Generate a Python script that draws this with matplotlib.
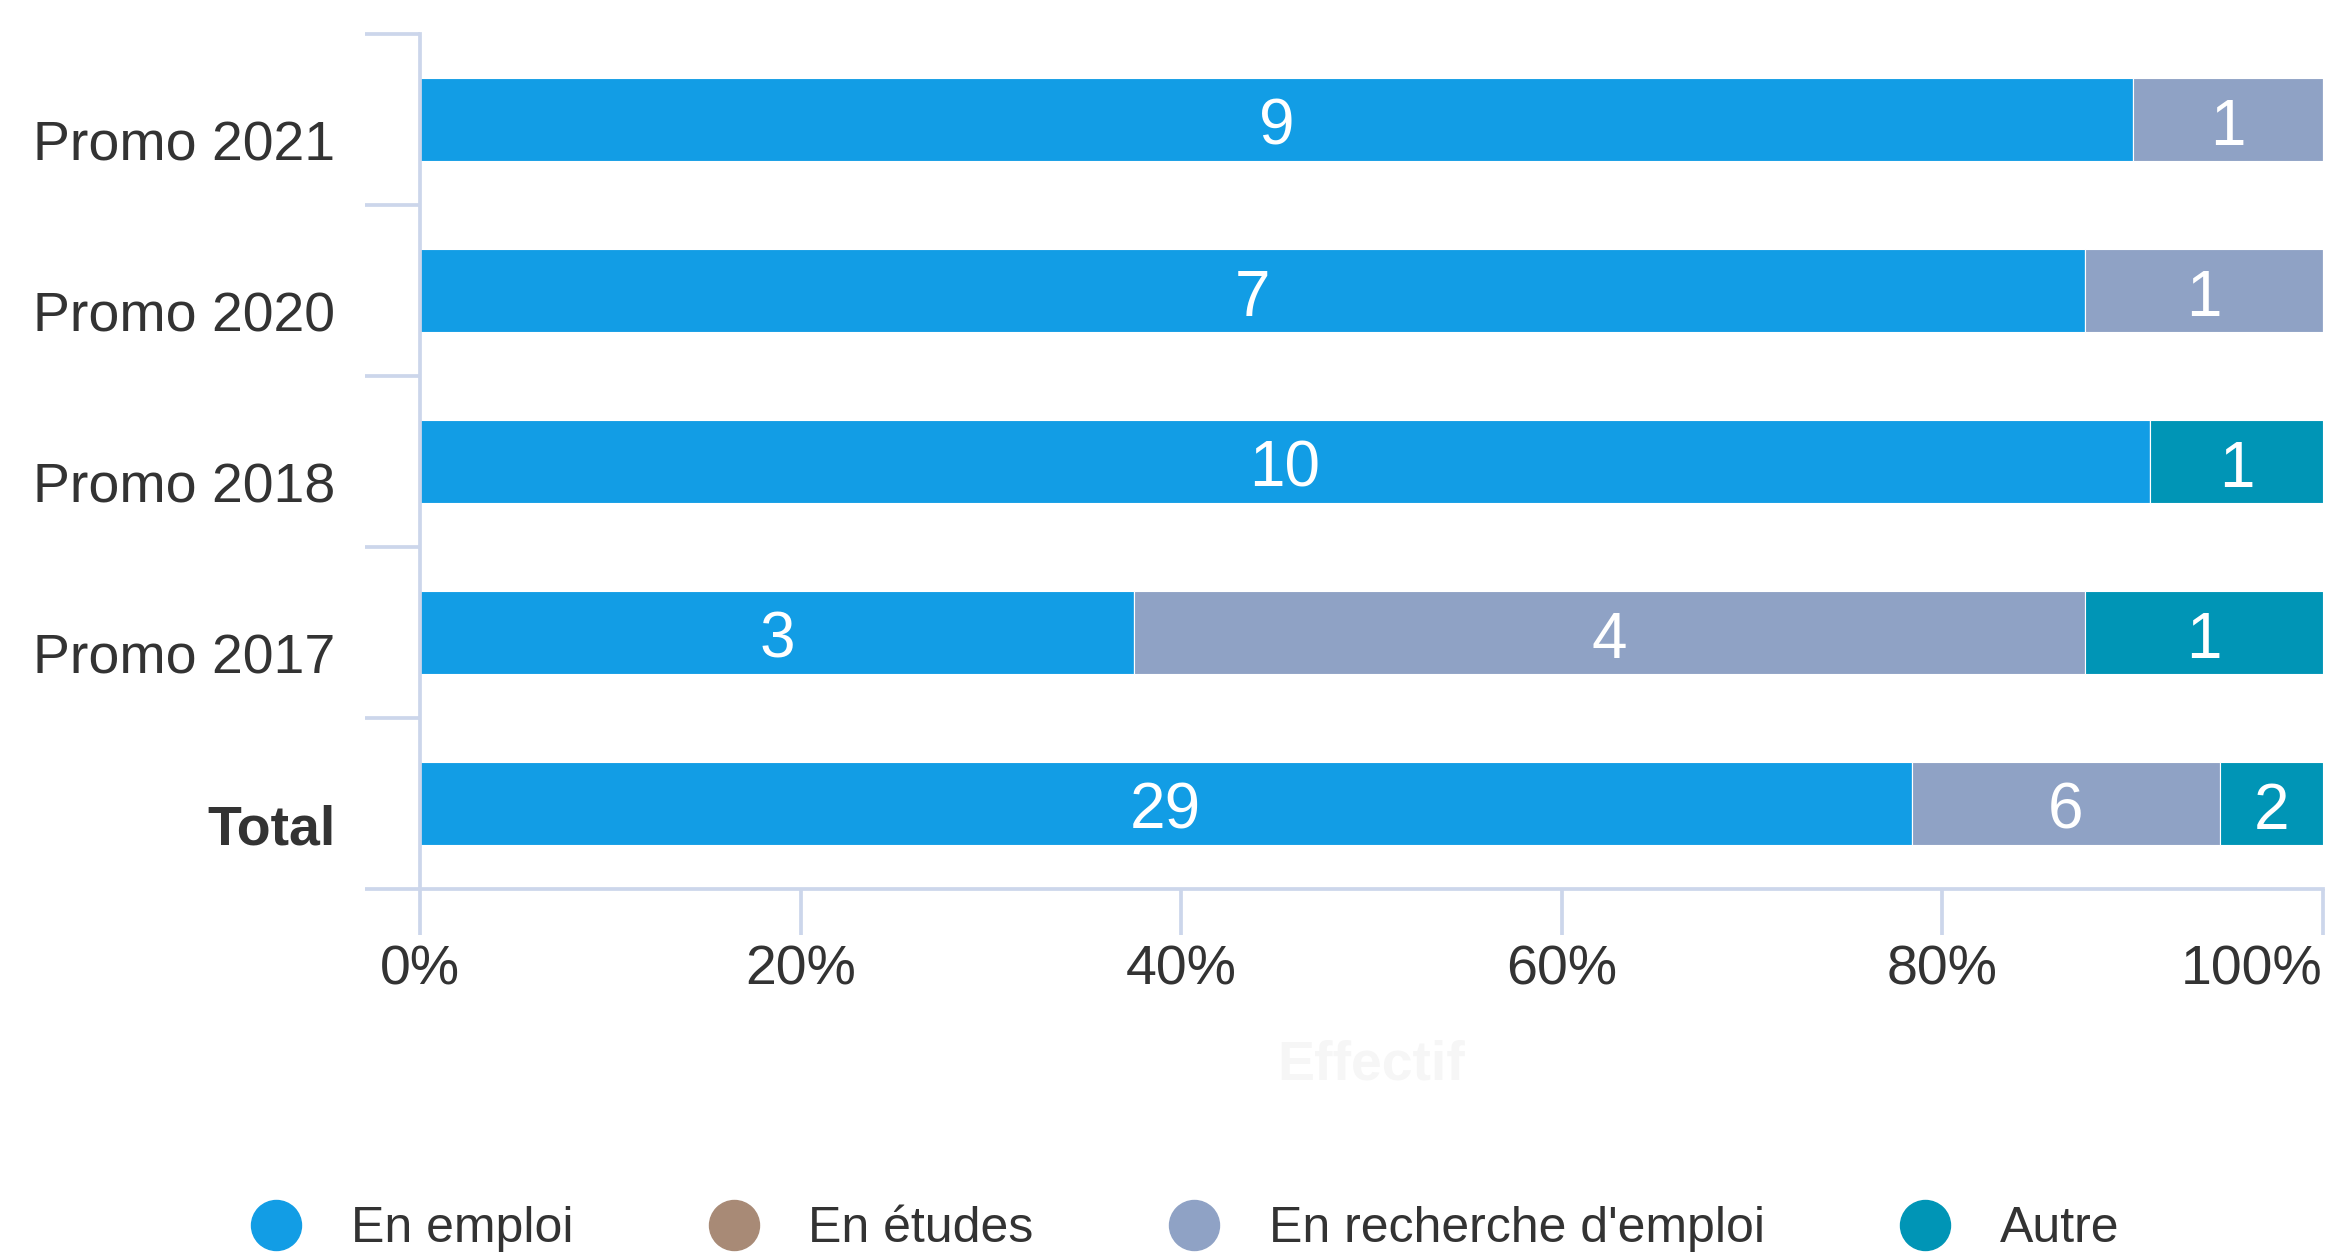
import numpy as np
import matplotlib
matplotlib.use('Agg')
import matplotlib.pyplot as plt
import matplotlib.transforms as mtransforms
from matplotlib.lines import Line2D

plt.rcParams['font.family'] = ['Liberation Sans', 'DejaVu Sans']

# data
categories = ['Promo 2021', 'Promo 2020', 'Promo 2018', 'Promo 2017', 'Total']
series_names = ['En emploi', 'En études', "En recherche d'emploi", 'Autre']
en_emploi = [9, 7, 10, 3, 29]
en_etudes = [0, 0, 0, 0, 0]
en_recherche = [1, 1, 0, 4, 6]
autre = [0, 0, 1, 1, 2]
x_ticks = [0, 20, 40, 60, 80, 100]
x_tick_labels = ['0%', '20%', '40%', '60%', '80%', '100%']

colors = ['#129de5', '#a88a76', '#8fa2c5', '#0095b6']
axis_color = '#ccd6eb'
text_color = '#333333'

counts = np.array([en_emploi, en_etudes, en_recherche, autre], dtype=float)
totals = counts.sum(axis=0)
pct = counts / totals * 100

fig = plt.figure(figsize=(23.26, 12.53), dpi=100)
ax = fig.add_axes([0.1806, 0.2905, 0.8181, 0.6824])

y = np.arange(len(categories))
left = np.zeros(len(categories))
for i in range(len(series_names)):
    bars = ax.barh(y, pct[i], left=left, height=0.49, color=colors[i],
                   edgecolor='white', linewidth=0.8, zorder=2)
    for j, b in enumerate(bars):
        if counts[i, j] > 0:
            ax.annotate(f'{int(counts[i, j])}', (left[j] + pct[i, j] / 2, y[j]),
                        xytext=(0, -6), textcoords='offset points',
                        ha='center', va='center', color='white', fontsize=46, zorder=3)
    left += pct[i]

ax.set_xlim(0, 100)
ax.set_ylim(len(categories) - 0.5, -0.5)

lw = 2.7
for s in ['top', 'right']:
    ax.spines[s].set_visible(False)
for s in ['left', 'bottom']:
    ax.spines[s].set_color(axis_color)
    ax.spines[s].set_linewidth(lw)

ax.set_yticks(y)
ax.set_yticklabels(categories)
ax.set_yticks(np.arange(-0.5, len(categories), 1), minor=True)
ax.tick_params(axis='y', which='major', length=0, pad=61, labelsize=40, labelcolor=text_color)
ax.tick_params(axis='y', which='minor', length=39.6, width=lw, color=axis_color)
shift = mtransforms.ScaledTranslation(0, -0.21, fig.dpi_scale_trans)
for lab in ax.get_yticklabels():
    lab.set_transform(lab.get_transform() + shift)
ax.get_yticklabels()[-1].set_fontweight('bold')

ax.set_xticks(x_ticks)
ax.set_xticklabels(x_tick_labels)
ax.tick_params(axis='x', length=33, width=lw, color=axis_color, pad=7,
               labelsize=40, labelcolor=text_color)
ax.get_xticklabels()[-1].set_horizontalalignment('right')

ax.text(0.5, -0.206, 'Effectif', transform=ax.transAxes, ha='center', va='center',
        fontsize=40, fontweight='bold', color='#f6f6f6')

handles = [Line2D([], [], marker='o', linestyle='none', markersize=36,
                  markerfacecolor=c, markeredgecolor=c) for c in colors]
fig.legend(handles, series_names, loc='center left',
           bbox_to_anchor=(251 / 2326, 1 - 1229 / 1253), ncol=4, frameon=False,
           fontsize=36, handlelength=1.0, handletextpad=1.0, columnspacing=2.7,
           borderpad=0, borderaxespad=0, labelcolor=text_color)

fig.savefig('out.png', dpi=100)
